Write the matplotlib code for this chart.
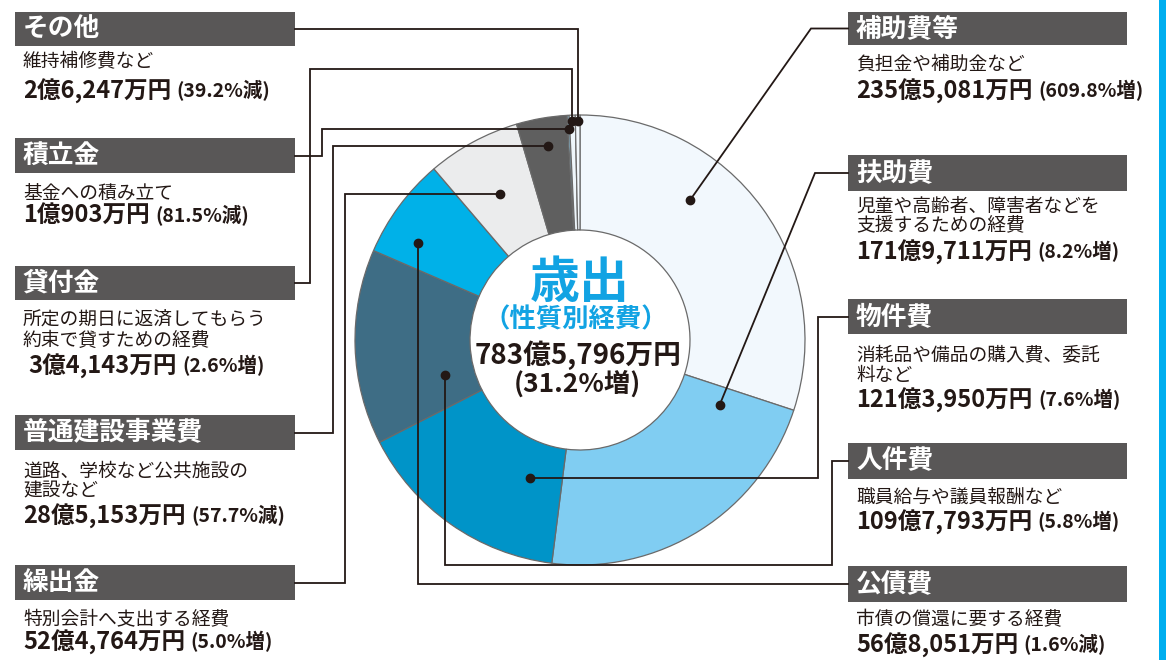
import matplotlib
matplotlib.use('Agg')
import matplotlib.pyplot as plt
from matplotlib.patches import Rectangle
import numpy as np

plt.rcParams['font.family'] = ['Noto Sans CJK JP', 'DejaVu Sans']

# ---------------- data (clockwise from 12 o'clock) ----------------
categories = ['補助費等', '扶助費', '物件費', '人件費', '公債費', '繰出金',
              '普通建設事業費', '積立金', '貸付金', 'その他']
amount_man = [2355081, 1719711, 1213950, 1097793, 568051, 524764,
              285153, 10903, 34143, 26247]          # 万円
change_pct = [609.8, 8.2, 7.6, 5.8, -1.6, 5.0, -57.7, -81.5, 2.6, -39.2]
descriptions = ['負担金や補助金など',
                '児童や高齢者、障害者などを\n支援するための経費',
                '消耗品や備品の購入費、委託\n料など',
                '職員給与や議員報酬など',
                '市債の償還に要する経費',
                '特別会計へ支出する経費',
                '道路、学校など公共施設の\n建設など',
                '基金への積み立て',
                '所定の期日に返済してもらう\n約束で貸すための経費',
                '維持補修費など']
total_title = '歳出'
total_subtitle = '（性質別経費）'
total_man = 7835796
total_change = 31.2

# ---------------- style ----------------
colors = ['#f2f8fd', '#80cdf2', '#0094c8', '#3e6d85', '#00b1e8', '#ebeced',
          '#5f5f5f', '#8fd3f4', '#eef6fb', '#f2f8fd']
INK = '#231815'
BAR = '#595757'
BLUE = '#12a3e3'

W, H = 1174, 660
fig = plt.figure(figsize=(W / 100, H / 100), dpi=100)
ax = fig.add_axes([0, 0, 1, 1])

CX, CY, R, RW = 580, 340, 225, 115
wedges, _ = ax.pie(amount_man, colors=colors, radius=R, center=(CX, CY),
                   startangle=-90, counterclock=True,
                   wedgeprops=dict(width=RW, edgecolor='#6a6a6a', linewidth=0.9))
ax.set_xlim(0, W)
ax.set_ylim(H, 0)
ax.set_aspect('equal')
ax.axis('off')

# right cyan strip
ax.add_patch(Rectangle((1159, 0), 7, H, color='#00aeef', lw=0))


def fmt_amount(v):
    oku, man = divmod(v, 10000)
    return f'{oku}億{man:,}万円'


def fmt_change(p):
    return f'({abs(p):.1f}%{"増" if p >= 0 else "減"})'


# layout per category: side, bar top, bar bottom, desc centre y, amount y, amount x-indent
layout = {
    '補助費等': ('R', 12, 45, 64, 91, 0),
    '扶助費': ('R', 155, 191, 216, 252, 0),
    '物件費': ('R', 299, 334, 365.5, 400, 0),
    '人件費': ('R', 443, 479, 497, 522, 0),
    '公債費': ('R', 566, 602, 620, 645, 0),
    'その他': ('L', 12, 46, 62, 91, 0),
    '積立金': ('L', 138, 173, 193, 216, 0),
    '貸付金': ('L', 266, 300, 330.5, 366, 5),
    '普通建設事業費': ('L', 415, 450, 481, 516, 0),
    '繰出金': ('L', 565, 600, 620, 642, 0),
}
BAR_X = {'L': (15, 295), 'R': (848, 1127)}

for cat, amt, chg, desc in zip(categories, amount_man, change_pct, descriptions):
    side, y0, y1, dy, ay, ind = layout[cat]
    x0, x1 = BAR_X[side]
    ax.add_patch(Rectangle((x0, y0), x1 - x0, y1 - y0, color=BAR, lw=0))
    ax.text(x0 + 8, (y0 + y1) / 2, cat, color='white', fontsize=18.5,
            fontweight='bold', va='center', ha='left')
    ax.text(x0 + 8, dy, desc, color=INK, fontsize=13.5, va='center', ha='left',
            linespacing=0.95)
    t = ax.text(x0 + 8 + ind, ay, fmt_amount(amt), color=INK, fontsize=17,
                fontweight='bold', va='center', ha='left')
    ax.annotate(fmt_change(chg), xy=(1, 0.5), xycoords=t, xytext=(4, 0),
                textcoords='offset points', color=INK,
                fontsize=14, fontweight='bold', va='center', ha='left')

# ---------------- leader lines ----------------
# dot position inside each wedge: (fraction of wedge angle, radius)
dot_pos = {
    '補助費等': (0.353, 178), '扶助費': (0.085, 154), '物件費': (0.228, 147),
    '人件費': (0.248, 139.5), '公債費': (0.287, 189), '繰出金': (0.49, 166.5),
    '普通建設事業費': (0.53, 196.6), '積立金': (0.5, 211), '貸付金': (0.5, 219),
    'その他': (0.5, 219),
}
dots = {}
for cat, w in zip(categories, wedges):
    f, r = dot_pos[cat]
    th = np.deg2rad(w.theta1 + f * (w.theta2 - w.theta1))
    dots[cat] = (CX + r * np.cos(th), CY + r * np.sin(th))


def bar_mid(cat):
    return (layout[cat][1] + layout[cat][2]) / 2


routes = {}
# right side
d = dots['補助費等']; ym = bar_mid('補助費等')
routes['補助費等'] = [(848, ym), (811, ym), d]
d = dots['扶助費']; ym = bar_mid('扶助費')
routes['扶助費'] = [(848, ym), (815, ym), d]
d = dots['物件費']; ym = bar_mid('物件費')
routes['物件費'] = [(848, ym), (818, ym), (818, d[1]), d]
d = dots['人件費']; ym = bar_mid('人件費')
routes['人件費'] = [(848, ym), (832, ym), (832, 565), (d[0], 565), d]
d = dots['公債費']; ym = bar_mid('公債費')
routes['公債費'] = [(848, ym), (d[0], ym), d]
# left side
d = dots['その他']; ym = bar_mid('その他')
routes['その他'] = [(295, ym), (d[0], ym), d]
d = dots['積立金']; ym = bar_mid('積立金')
routes['積立金'] = [(295, ym), (322, ym), (322, d[1]), d]
d = dots['貸付金']; ym = bar_mid('貸付金')
routes['貸付金'] = [(295, ym), (310, ym), (310, 69), (d[0], 69), d]
d = dots['普通建設事業費']; ym = bar_mid('普通建設事業費')
routes['普通建設事業費'] = [(295, ym), (333, ym), (333, d[1]), d]
d = dots['繰出金']; ym = bar_mid('繰出金')
routes['繰出金'] = [(295, ym), (345, ym), (345, d[1]), d]

for cat in categories:
    pts = np.array(routes[cat])
    ax.plot(pts[:, 0], pts[:, 1], color=INK, lw=1.3, solid_joinstyle='miter', zorder=5)
    ax.plot(*dots[cat], 'o', color=INK, ms=6, zorder=6)

# ---------------- centre text ----------------
ax.text(CX, 283, total_title, color=BLUE, fontsize=36, fontweight='bold',
        ha='center', va='center')
ax.text(CX - 4, 320, total_subtitle, color=BLUE, fontsize=19, fontweight='bold',
        ha='center', va='center')
ax.text(CX - 2, 355, fmt_amount(total_man), color=INK, fontsize=20, fontweight='bold',
        ha='center', va='center')
ax.text(CX - 3, 384, fmt_change(total_change),
        color=INK, fontsize=19, fontweight='bold', ha='center', va='center')

fig.savefig('out.png', dpi=100)
